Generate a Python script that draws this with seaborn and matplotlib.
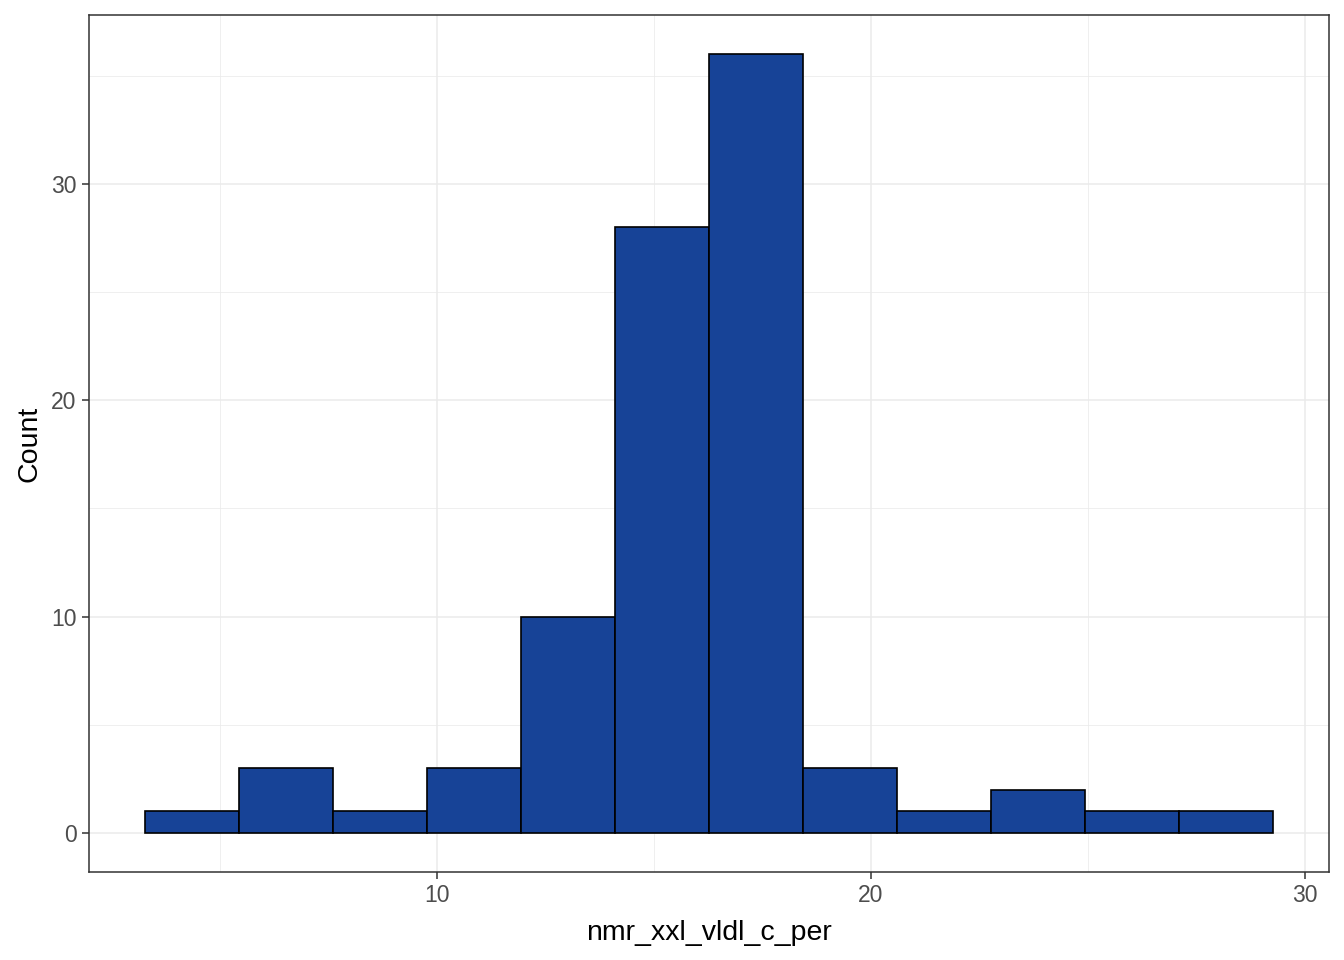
import numpy as np
import pandas as pd
import seaborn as sns
import matplotlib.pyplot as plt
from matplotlib.ticker import MultipleLocator

# histogram bins
bin_start = 3.27
bin_width = 2.166
counts = [1, 3, 1, 3, 10, 28, 36, 3, 1, 2, 1, 1]
x_label = "nmr_xxl_vldl_c_per"
y_label = "Count"

edges = bin_start + bin_width * np.arange(len(counts) + 1)
centers = (edges[:-1] + edges[1:]) / 2
df = pd.DataFrame({"x": centers, "n": counts})

sns.set_style("white")
plt.rcParams['font.family'] = ['Liberation Sans', 'DejaVu Sans']

fig = plt.figure(figsize=(13.44, 9.6), dpi=100)
ax = fig.add_axes([89 / 1344, 1 - 872 / 960, (1329 - 89) / 1344, (872 - 15) / 960])

sns.histplot(data=df, x="x", weights="n", bins=list(edges), ax=ax,
             color="#174397", edgecolor="black", linewidth=1.2, alpha=1)

span = edges[-1] - edges[0]
ax.set_xlim(edges[0] - 0.05 * span, edges[-1] + 0.05 * span)
ax.set_ylim(-0.05 * max(counts), 1.05 * max(counts))

ax.xaxis.set_major_locator(MultipleLocator(10))
ax.xaxis.set_minor_locator(MultipleLocator(5))
ax.yaxis.set_major_locator(MultipleLocator(10))
ax.yaxis.set_minor_locator(MultipleLocator(5))
ax.grid(which="major", color="#EBEBEB", linewidth=1.1)
ax.grid(which="minor", color="#EBEBEB", linewidth=0.55)
ax.set_axisbelow(True)

for s in ax.spines.values():
    s.set_color("#333333")
    s.set_linewidth(1.1)

ax.tick_params(which="major", length=5, width=1.1, color="#333333",
               labelcolor="#4D4D4D", labelsize=16.5, bottom=True, left=True, pad=4)
ax.tick_params(which="minor", length=0)

ax.set_xlabel(x_label, fontsize=20.5, color="black", labelpad=9)
ax.set_ylabel(y_label, fontsize=20.5, color="black", labelpad=6)

fig.savefig("out.png", dpi=100)
